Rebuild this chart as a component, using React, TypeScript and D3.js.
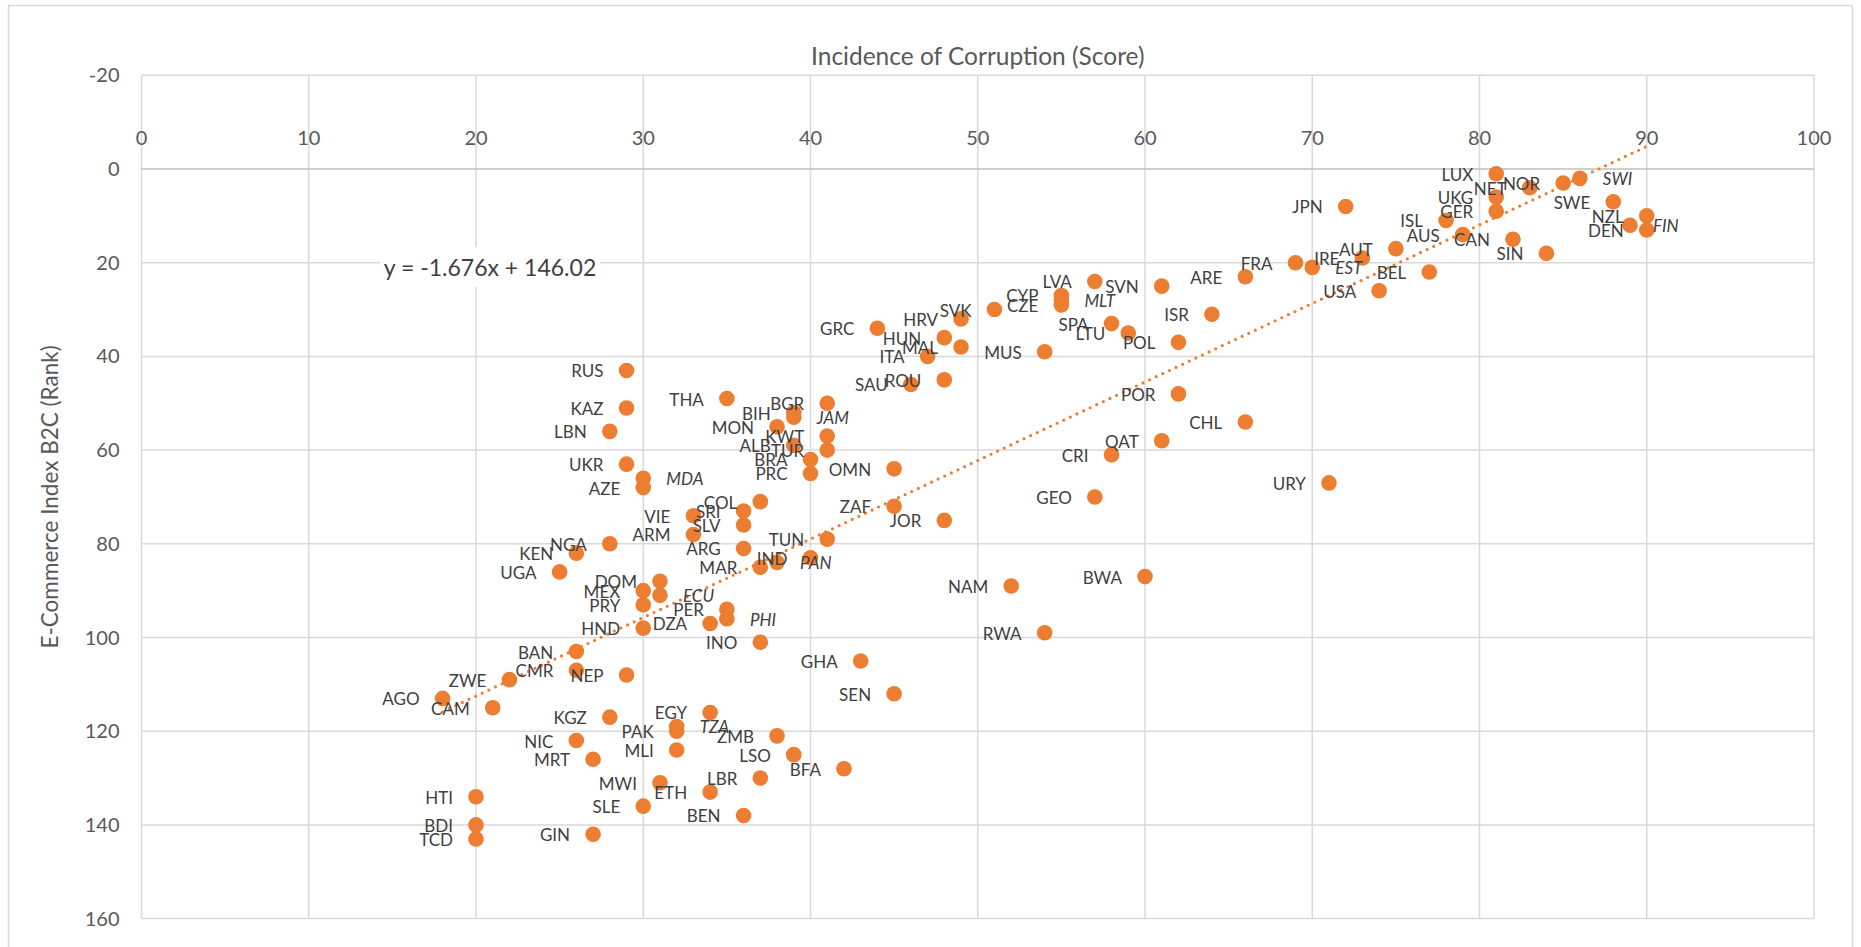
import React from 'react';
import * as d3 from 'd3';

// ---- Data ----
const countries = [
  'LUX','NET','NOR','SWI','JPN','UKG','GER','SWE','NZL','FIN','DEN','ISL','AUS','CAN','SIN',
  'AUT','IRE','EST','FRA','BEL','USA','ARE','SVN','LVA','CYP','MLT','CZE','SVK','ISR','HRV',
  'GRC','SPA','LTU','HUN','MAL','ITA','POL','MUS','RUS','THA','BGR','BIH','JAM','ROU','SAU',
  'KAZ','MON','LBN','KWT','ALB','TUR','BRA','PRC','OMN','POR','CHL','QAT','CRI','UKR','MDA',
  'AZE','URY','GEO','COL','SRI','VIE','SLV','ZAF','JOR','ARM','TUN','ARG','NGA','KEN','IND',
  'PAN','MAR','UGA','NAM','BWA','DOM','MEX','ECU','PRY','PER','PHI','DZA','HND','RWA','INO',
  'BAN','GHA','CMR','NEP','ZWE','SEN','AGO','CAM','EGY','KGZ','TZA','PAK','ZMB','NIC','MLI',
  'LSO','MRT','BFA','LBR','MWI','ETH','HTI','SLE','BEN','BDI','GIN','TCD'
];
const corruptionScores = [
  81,83,85,86,72,81,81,88,90,89,90,78,79,82,84,
  75,73,70,69,77,74,66,61,57,55,55,55,51,64,49,
  44,58,59,48,49,47,62,54,29,35,41,39,39,48,46,
  29,38,28,41,39,41,40,40,45,62,66,61,58,29,30,
  30,71,57,37,36,33,36,45,48,33,41,36,28,26,40,
  38,37,25,52,60,31,30,31,30,35,35,34,30,54,37,
  26,43,26,29,22,45,18,21,34,28,32,32,38,26,32,
  39,27,42,37,31,34,20,30,36,20,27,20
];
const ecommerceRanks = [
  1,4,3,2,8,6,9,7,10,12,13,11,14,15,18,
  17,19,21,20,22,26,23,25,24,27,28,29,30,31,32,
  34,33,35,36,38,40,37,39,43,49,50,52,53,45,46,
  51,55,56,57,59,60,62,65,64,48,54,58,61,63,66,
  68,67,70,71,73,74,76,72,75,78,79,81,80,82,83,
  84,85,86,89,87,88,90,91,93,94,96,97,98,99,101,
  103,105,107,108,109,112,113,115,116,117,119,120,121,122,124,
  125,126,128,130,131,133,134,136,138,140,142,143
];
// Labels drawn in italics, to the right of their point
const italicRightLabels = ['MDA','JAM','ECU','PAN','PHI','TZA','MLT','EST','SWI','FIN'];

const xTicks = [0, 10, 20, 30, 40, 50, 60, 70, 80, 90, 100];
const yTicks = [-20, 0, 20, 40, 60, 80, 100, 120, 140, 160];
const trendSlope = -1.676;
const trendIntercept = 146.02;

const xTitle = 'Incidence of Corruption (Score)';
const yTitle = 'E-Commerce Index B2C (Rank)';

// ---- Layout ----
const W = 1861;
const H = 947;
const plot = { left: 141.5, right: 1814, top: 75.3, bottom: 918.6 };
const ORANGE = '#ED7D31';
const FONT = 'Lato, "Open Sans", sans-serif';

export default function App() {
  const x = d3.scaleLinear().domain([0, 100]).range([plot.left, plot.right]);
  const y = d3.scaleLinear().domain([-20, 160]).range([plot.top, plot.bottom]);

  const points = countries.map((c, i) => ({ c, s: corruptionScores[i], r: ecommerceRanks[i] }));
  const xMin = d3.min(corruptionScores) as number;
  const xMax = d3.max(corruptionScores) as number;
  const trend = d3.line<number>()
    .x((d) => x(d))
    .y((d) => y(trendSlope * d + trendIntercept));

  const eqText = `y = ${trendSlope}x + ${trendIntercept.toFixed(2)}`;

  return (
    <div style={{ position: 'fixed', left: 0, top: 0, width: W, height: H, background: '#fff' }}>
      <svg width={W} height={H} style={{ display: 'block', fontFamily: FONT }}>
        <rect x={0} y={0} width={W} height={H} fill="#fff" />
        <rect x={8.5} y={5.5} width={1844} height={960} fill="none" stroke="#d9d9d9" strokeWidth={1.5} />

        {/* gridlines */}
        {xTicks.map((t) => (
          <line key={'vx' + t} x1={x(t)} x2={x(t)} y1={plot.top} y2={plot.bottom} stroke="#d9d9d9" strokeWidth={1.5} />
        ))}
        {yTicks.map((t) => (
          <line key={'hy' + t} x1={plot.left} x2={plot.right} y1={y(t)} y2={y(t)}
            stroke={t === 0 ? '#bfbfbf' : '#d9d9d9'} strokeWidth={1.5} />
        ))}

        {/* tick labels */}
        {yTicks.map((t) => (
          <text key={'yl' + t} x={plot.left - 22} y={y(t)} dy="0.35em" textAnchor="end"
            fontSize={20} fill="#595959">{t}</text>
        ))}
        {xTicks.map((t) => (
          <text key={'xl' + t} x={x(t)} y={y(0) - 31} dy="0.35em" textAnchor="middle"
            fontSize={20} fill="#595959">{t}</text>
        ))}

        {/* axis titles */}
        <text x={(plot.left + plot.right) / 2} y={56} dy="0.35em" textAnchor="middle" fontSize={24.5} fill="#595959">
          {xTitle}
        </text>
        <text transform={`translate(50,${(plot.top + plot.bottom) / 2}) rotate(-90)`} dy="0.35em"
          textAnchor="middle" fontSize={22.5} fill="#595959">
          {yTitle}
        </text>

        {/* trendline */}
        <path d={trend([xMin, xMax]) || ''} fill="none" stroke={ORANGE} strokeWidth={3.2}
          strokeDasharray="0 7.3" strokeLinecap="round" />

        {/* points */}
        {points.map((p) => (
          <circle key={'pt' + p.c} cx={x(p.s)} cy={y(p.r)} r={7.8} fill={ORANGE} />
        ))}

        {/* labels */}
        {points.map((p) => {
          const right = italicRightLabels.includes(p.c);
          return (
            <text key={'lb' + p.c}
              x={right ? x(p.s) + 23 : x(p.s) - 23}
              y={y(p.r) + 1}
              dy="0.35em"
              textAnchor={right ? 'start' : 'end'}
              fontStyle={right ? 'italic' : 'normal'}
              fontSize={17}
              fill="#404040">
              {p.c}
            </text>
          );
        })}

        {/* equation */}
        <rect x={380} y={247} width={220} height={40} fill="#fff" />
        <text x={490} y={268} dy="0.35em" textAnchor="middle" fontSize={23} fill="#404040">{eqText}</text>
      </svg>
    </div>
  );
}
